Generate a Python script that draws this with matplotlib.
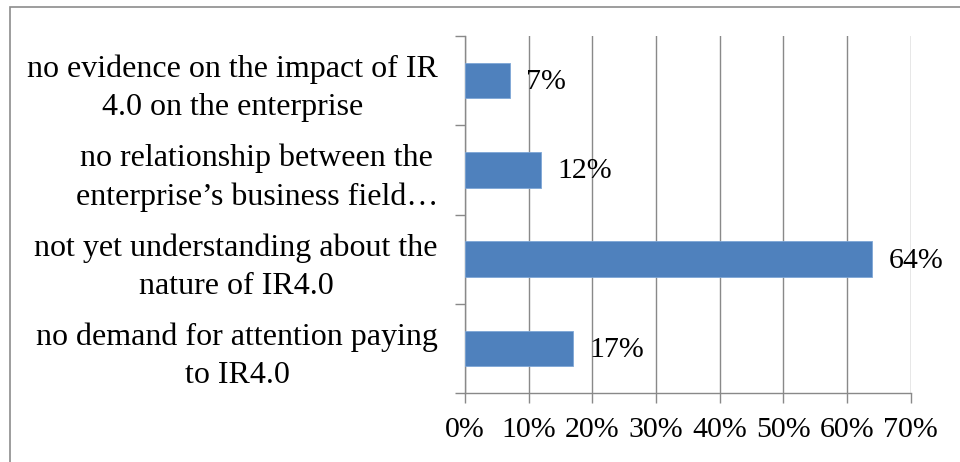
import numpy as np
import matplotlib
matplotlib.use('Agg')
import matplotlib.pyplot as plt
from matplotlib.patches import Rectangle

categories = ['no demand for attention paying\nto IR4.0',
              'not yet understanding about the\nnature of IR4.0',
              'no relationship between the\nenterprise\u2019s business field\u2026',
              'no evidence on the impact of IR\n4.0 on the enterprise']
values = [17, 64, 12, 7]
xticks = [0, 10, 20, 30, 40, 50, 60, 70]

plt.rcParams['font.family'] = ['Liberation Serif', 'DejaVu Serif']
fs = 21.5
fs_cat = 23
grey = '#898989'

fig = plt.figure(figsize=(9.6, 4.62), dpi=100)
ax = fig.add_axes([465/960, 1-393/462, (910.7-465)/960, (393-36)/462])

y = np.arange(len(categories))
ax.barh(y, values, height=0.4, color='#4F81BD', edgecolor='#7EA6D6', linewidth=0.6, zorder=3)
for yi, v in zip(y, values):
    ax.annotate('%d%%' % v, (v, yi), xytext=(11.5, -1), textcoords='offset points',
                va='center', ha='left', fontsize=fs, zorder=4)

ax.set_xlim(0, 70)
ax.set_ylim(-0.5, len(categories) - 0.5)
ax.set_xticks(xticks)
ax.set_xticklabels(['%d%%' % t for t in xticks], fontsize=fs)
ax.tick_params(axis='x', direction='out', length=7, width=1, color=grey, pad=10)

ax.set_yticks(y)
ax.set_yticklabels(categories, fontsize=fs_cat, ha='right', multialignment='center', linespacing=1.4)
ax.tick_params(axis='y', which='major', length=0, pad=19.5)
ax.set_yticks(np.arange(-0.5, len(categories)), minor=True)
ax.tick_params(axis='y', which='minor', direction='out', length=7, width=1, color=grey)

ax.grid(axis='x', color=grey, linewidth=1, zorder=0)
ax.set_axisbelow(True)
for s in ['top', 'right']:
    ax.spines[s].set_visible(False)
for s in ['left', 'bottom']:
    ax.spines[s].set_color(grey)
    ax.spines[s].set_linewidth(1)

fig.patches.append(Rectangle((10/960, -0.1), 1.2, 1-7/462+0.1, transform=fig.transFigure,
                             fill=False, edgecolor='#8c8c8c', linewidth=1.2))

fig.savefig('out.png', dpi=100)
